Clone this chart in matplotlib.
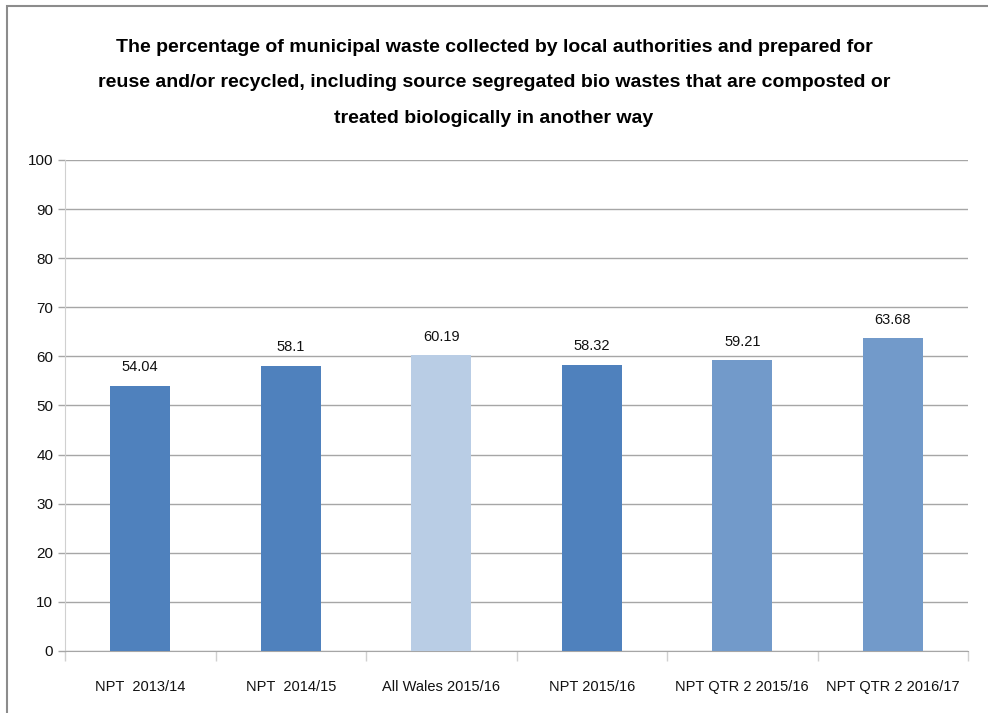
import matplotlib
matplotlib.use("Agg")
import matplotlib.pyplot as plt
from matplotlib.patches import Rectangle

plt.rcParams['font.family'] = ['Liberation Sans', 'DejaVu Sans']

categories = ["NPT  2013/14", "NPT  2014/15", "All Wales 2015/16",
              "NPT 2015/16", "NPT QTR 2 2015/16", "NPT QTR 2 2016/17"]
values = [54.04, 58.1, 60.19, 58.32, 59.21, 63.68]
labels = ["54.04", "58.1", "60.19", "58.32", "59.21", "63.68"]
colors = ["#4F81BD", "#4F81BD", "#B9CDE5", "#4F81BD", "#729ACA", "#729ACA"]

title = ("The percentage of municipal waste collected by local authorities and prepared for\n"
         "reuse and/or recycled, including source segregated bio wastes that are composted or\n"
         "treated biologically in another way")

fig = plt.figure(figsize=(9.88, 7.13), dpi=100)
# chart area border (only left and top edges show in the reference)
fig.patches.append(Rectangle((0.007, -0.05), 1.2, 1.041, transform=fig.transFigure,
                             fill=False, edgecolor="#8C8C8C", linewidth=1.5))

ax = fig.add_axes([0.0658, 0.087, 0.914, 0.6886])
x = list(range(len(categories)))
ax.bar(x, values, width=0.4, color=colors, zorder=3)

for xi, v, lab in zip(x, values, labels):
    ax.text(xi, v + 2.3, lab, ha="center", va="bottom", fontsize=10.5, color="#111111")

ax.set_ylim(0, 100)
ax.set_xlim(-0.5, len(categories) - 0.5)
ax.set_yticks(range(0, 101, 10))
ax.tick_params(axis="y", labelsize=11, length=5, color="#A6A6A6", width=1,
               labelcolor="#111111")
ax.yaxis.grid(True, color="#A6A6A6", linewidth=1)
ax.set_axisbelow(True)

ax.set_xticks(x)
ax.set_xticklabels(categories, fontsize=10.5, color="#111111")
ax.set_xticks([i + 0.5 for i in range(-1, len(categories))], minor=True)
ax.tick_params(axis="x", which="major", length=0, pad=21)
ax.tick_params(axis="x", which="minor", length=7, color="#D0D0D0", width=1)

for s in ["top", "right"]:
    ax.spines[s].set_visible(False)
ax.spines["left"].set_color("#D0D0D0")
ax.spines["bottom"].set_color("#A6A6A6")

fig.text(0.5, 0.8836, title, ha="center", va="center", fontsize=14, fontweight="bold",
         linespacing=2.45, color="#000000")

fig.savefig("out.png", dpi=100)
